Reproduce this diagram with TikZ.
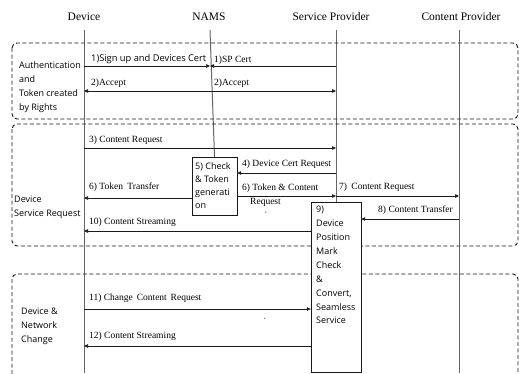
\documentclass[tikz,border=0pt]{standalone}
\usepackage{fontspec}
\setmainfont{Liberation Serif}
\newfontfamily\sansf{Open Sans}
\usetikzlibrary{arrows.meta}
\begin{document}
\begin{tikzpicture}[x=1pt,y=-1pt,
  life/.style={draw=black!60, line width=1pt},
  msg/.style={draw=black!90, line width=0.6pt, -{Triangle[length=4pt,width=3.5pt]}},
  grp/.style={draw=black!90, line width=0.9pt, dash pattern=on 4pt off 2.5pt, rounded corners=5pt},
  proc/.style={draw=black!90, fill=white, line width=0.7pt, inner sep=0pt},
  hdr/.style={font=\fontsize{11.5}{13}\selectfont, inner sep=0pt},
  lbl/.style={font=\fontsize{9.5}{11}\selectfont, inner sep=0pt, anchor=west},
  slbl/.style={font=\sansf\fontsize{9}{14}\selectfont, inner sep=0pt, anchor=west, align=left},
  tick/.style={font=\fontsize{7}{7}\selectfont, inner sep=0pt},
]
\useasboundingbox (0,0) rectangle (519,373);
\fill[white] (0,0) rectangle (519,373);
\clip (0,0) rectangle (519,373);

% headers
\node[hdr] (hD) at (84,17) {Device};
\node[hdr] (hN) at (209,17) {NAMS};
\node[hdr] (hS) at (331,17) {Service Provider};
\node[hdr] (hC) at (461,17) {Content Provider};

% lifeline ends and process box positions
\coordinate (Dtop) at (84,30);
\coordinate (Ntop) at (210,30);
\coordinate (Stop) at (336,30);
\coordinate (Ctop) at (459,30);
\coordinate (Dbot) at (84,373);
\coordinate (Cbot) at (459,373);

\path (214.5,186) node[minimum width=45pt, minimum height=58pt, inner sep=0pt] (chkpos) {};
\path (336,287) node[minimum width=50pt, minimum height=170pt, inner sep=0pt] (pospos) {};

% lifelines
\draw[life] (Dtop) -- (Dbot);
\draw[life] (Ntop) -- (chkpos.north);
\draw[life] (Stop) -- (pospos.north);
\draw[life] (Ctop) -- (Cbot);

% groups
\draw[grp] (12,43) rectangle (518,119);
\draw[grp] (12,124) rectangle (518,246);
\draw[grp] (12,274) rectangle (518,390);

% group labels
\node[slbl] (g1) at (19,87) {Authentication\\and\\Token created\\by Rights};
\node[slbl] (g2) at (14,207) {Device\\Service Request};
\node[slbl] (g3) at (21,326) {Device \&\\Network\\Change};

% messages
\coordinate (D1) at (84,66); \coordinate (N1) at (210,66); \coordinate (S1) at (336,66);
\draw[msg] (D1) -- (N1);
\draw[msg] (S1) -- (N1);
\coordinate (D2) at (84,91); \coordinate (N2) at (210,91); \coordinate (S2) at (336,91);
\draw[msg] (N2) -- (D2);
\draw[msg] (N2) -- (S2);
\coordinate (D3) at (84,148); \coordinate (S3) at (336,148);
\draw[msg] (D3) -- (S3);
\coordinate (S4) at (336,173);
\draw[msg] (S4) -- (S4 -| chkpos.east);
\coordinate (D6) at (84,198);
\draw[msg] (D6 -| chkpos.west) -- (D6);
\coordinate (S6) at (336,196); \coordinate (C7) at (459,196);
\draw[msg] (S6 -| chkpos.east) -- (S6);
\draw[msg] (S6) -- (C7);
\coordinate (C8) at (459,219);
\draw[msg] (C8) -- (C8 -| pospos.east);
\coordinate (D10) at (84,231);
\draw[msg] (D10 -| pospos.west) -- (D10);
\coordinate (D11) at (84,309);
\draw[msg] (D11) -- (D11 -| pospos.west);
\coordinate (D12) at (84,346);
\draw[msg] (D12 -| pospos.west) -- (D12);

% process boxes
\node[proc, minimum width=45pt, minimum height=58pt] (chk) at (chkpos) {};
\node[proc, minimum width=50pt, minimum height=170pt] (pos) at (pospos) {};
\node[slbl, anchor=north west, font=\sansf\fontsize{9}{13.3}\selectfont] (chkt) at (195,162) {5) Check\\\& Token\\generati\\on};
\node[slbl, anchor=north west, font=\sansf\fontsize{9}{13.9}\selectfont] (post) at (316,206) {9)\\Device\\Position\\Mark\\Check\\\&\\Convert,\\Seamless\\Service};

% message labels
\node[slbl, font=\sansf\fontsize{9.3}{11}\selectfont] (t1) at (91,59) {1)Sign up and Devices Cert};
\node[lbl] (t1b) at (214,60) {1)SP Cert};
\node[lbl] (t2) at (91,83) {2)Accept};
\node[lbl] (t2b) at (214,83) {2)Accept};
\node[lbl] (t3) at (89,140) {3) Content Request};
\node[lbl] (t4) at (242,164) {4) Device Cert Request};
\node[lbl] (t6a) at (89,187) {6) Token\hspace{2pt} Transfer};
\node[lbl] (t6b) at (242,188) {6) Token \& Content};
\node[lbl] (t6c) at (250,202) {Request};
\node[tick] (k1) at (266,214) {`};
\node[lbl] (t7) at (339,187) {7)\hspace{2pt} Content Request};
\node[lbl, anchor=east] (t8) at (453,210) {8) Content Transfer};
\node[lbl] (t10) at (89,222) {10) Content Streaming};
\node[lbl] (t11) at (89,298) {11) Change\hspace{1.5pt} Content\hspace{1.5pt} Request};
\node[tick] (k2) at (265,320) {`};
\node[lbl] (t12) at (89,336) {12) Content Streaming};
\end{tikzpicture}
\end{document}
